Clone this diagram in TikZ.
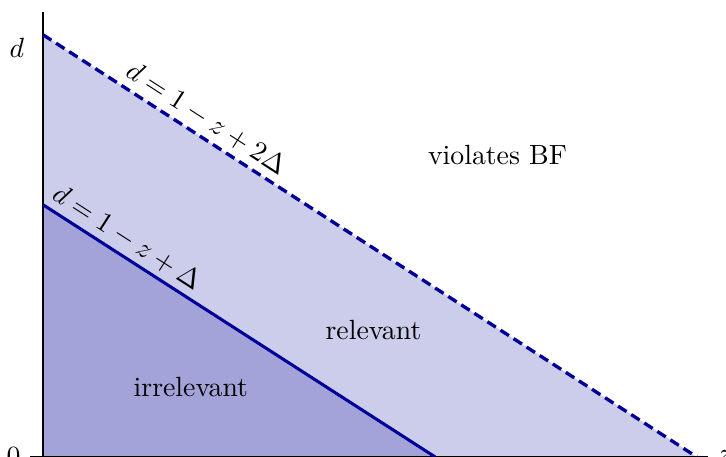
\documentclass[tikz,border=0pt]{standalone}
\usepackage{tikz}
\usetikzlibrary{positioning,calc}
\definecolor{bfnavy}{rgb}{0,0,0.6}

\begin{document}
\begin{tikzpicture}[
    region_light/.style={fill=bfnavy!20},
    region_dark/.style={fill=bfnavy!36},
    axis_line/.style={draw=black, line width=0.6pt},
    bnd_solid/.style={draw=bfnavy, line width=1.1pt},
    bnd_dashed/.style={draw=bfnavy, line width=1.2pt, dash pattern=on 3.6pt off 2pt},
    bnd_label/.style={sloped, above, inner sep=2pt},
    region_label/.style={font=\normalsize}
]
    \useasboundingbox (-0.544,0) rectangle (8.64,5.78);

    % Corner points
    \coordinate (o) at (0,0);
    \coordinate (d_hi) at (0,5.34);
    \coordinate (z_hi) at (8.27,0);
    \coordinate (d_lo) at (0,3.19);
    \coordinate (z_lo) at (4.96,0);
    \coordinate (x_start) at (-0.16,0);
    \coordinate (x_end) at (8.41,0);
    \coordinate (y_end) at (0,5.63);

    % Regions
    \fill[region_light] (o) -- (d_hi) -- (z_hi) -- cycle;
    \fill[region_dark] (o) -- (d_lo) -- (z_lo) -- cycle;

    % Axes
    \draw[axis_line] (x_start) -- (x_end);
    \draw[axis_line] (o) -- (y_end);
    \node[left] (lbl_zero) at (x_start) {$0$};
    \node[right] (lbl_z) at (x_end) {$z$};
    \node (lbl_d) at (-0.33,5.18) {$d$};

    % Boundaries
    \draw[bnd_dashed] (d_hi) -- node[bnd_label, pos=0.235] (lbl_hi) {$d=1-z+2\Delta$} (z_hi);
    \draw[bnd_solid] (d_lo) -- node[bnd_label, pos=0.19] (lbl_lo) {$d=1-z+\Delta$} (z_lo);

    % Region names
    \node[region_label] (r_viol) at (5.75,3.82) {violates BF};
    \node[region_label] (r_rel) at (4.18,1.61) {relevant};
    \node[region_label] (r_irr) at (1.87,0.89) {irrelevant};

\end{tikzpicture}
\end{document}
